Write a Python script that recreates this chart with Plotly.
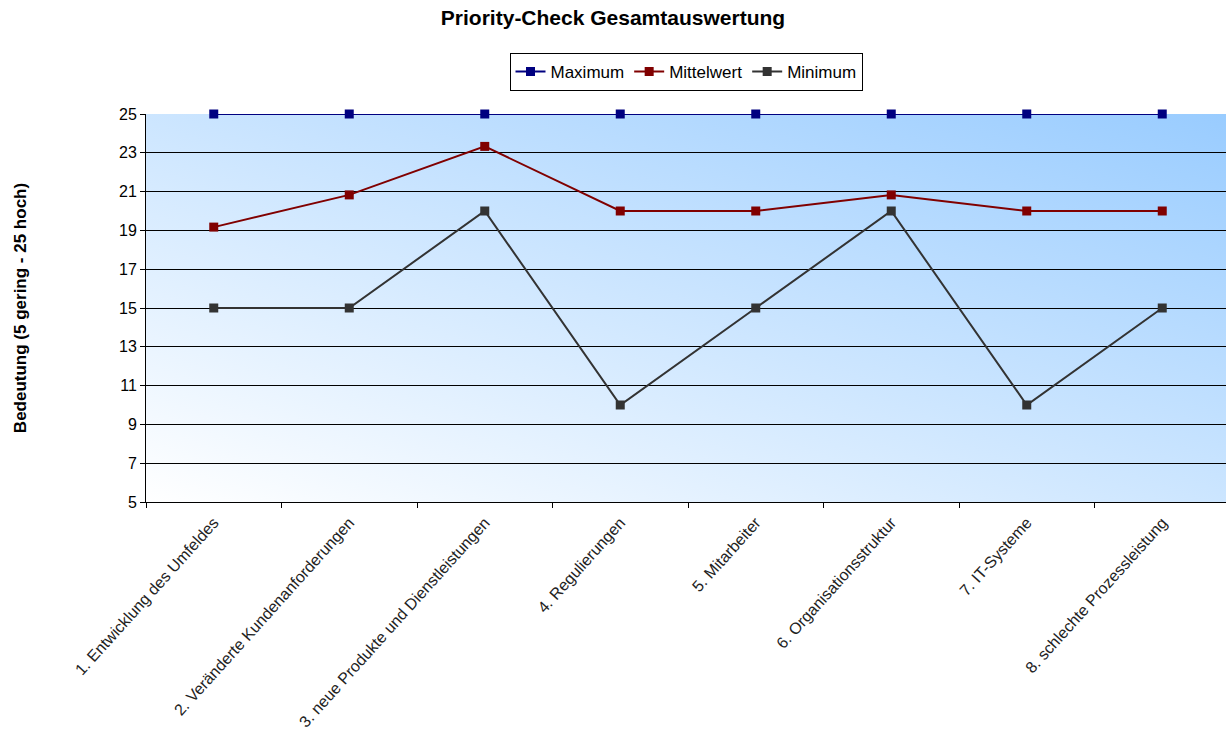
import base64
import plotly.graph_objects as go

categories = [
    "1. Entwicklung des Umfeldes",
    "2. Veränderte Kundenanforderungen",
    "3. neue Produkte und Dienstleistungen",
    "4. Regulierungen",
    "5. Mitarbeiter",
    "6. Organisationsstruktur",
    "7. IT-Systeme",
    "8. schlechte Prozessleistung",
]
maximum = [25, 25, 25, 25, 25, 25, 25, 25]
mittelwert = [19.17, 20.83, 23.33, 20, 20, 20.83, 20, 20]
minimum = [15, 15, 20, 10, 15, 20, 10, 15]
y_ticks = [5, 7, 9, 11, 13, 15, 17, 19, 21, 23, 25]

FONT = "Liberation Sans, Arial, sans-serif"

series = [
    ("Maximum", maximum, "#000080"),
    ("Mittelwert", mittelwert, "#800000"),
    ("Minimum", minimum, "#333333"),
]

fig = go.Figure()
for name, vals, col in series:
    fig.add_trace(go.Scatter(
        x=categories, y=vals, name=name, mode="lines+markers",
        line=dict(color=col, width=2),
        marker=dict(symbol="square", size=9, color=col),
        cliponaxis=False,
    ))

svg = (
    '<svg xmlns="http://www.w3.org/2000/svg" width="1080" height="388" '
    'viewBox="0 0 1080 388" preserveAspectRatio="none">'
    '<defs><linearGradient id="g" x1="0" y1="1" x2="1" y2="0">'
    '<stop offset="0" stop-color="#FFFFFF"/>'
    '<stop offset="1" stop-color="#99CCFF"/>'
    '</linearGradient></defs>'
    '<rect x="0" y="0" width="1080" height="388" fill="url(#g)"/></svg>'
)
src = "data:image/svg+xml;base64," + base64.b64encode(svg.encode()).decode()

fig.update_layout(
    width=1226, height=740,
    margin=dict(l=146, r=0, t=114, b=238, autoexpand=False),
    paper_bgcolor="white",
    plot_bgcolor="rgba(0,0,0,0)",
    font=dict(family=FONT, size=16, color="black"),
    title=dict(text="<b>Priority-Check Gesamtauswertung</b>", x=0.5, xref="container",
               xanchor="center", y=1 - 18 / 740, yanchor="middle",
               font=dict(size=21, family=FONT)),
    legend=dict(orientation="h", x=0.5, xanchor="center", y=1 + (114 - 91) / 388,
                yanchor="bottom", bordercolor="black", borderwidth=1,
                bgcolor="white", font=dict(size=17, family=FONT),
                itemwidth=30, tracegroupgap=0),
    images=[dict(source=src, xref="paper", yref="paper", x=0, y=1, sizex=1, sizey=1,
                 xanchor="left", yanchor="top", sizing="stretch", layer="below")],
    showlegend=True,
)
fig.update_xaxes(
    type="category", range=[-0.5, 7.5 - 4 / 135.5],
    tickangle=-48, tickson="boundaries", ticks="outside", ticklen=5, tickcolor="black",
    showline=True, linecolor="black", linewidth=1, showgrid=False,
    ticklabelstandoff=4,
    tickfont=dict(size=16, family=FONT, color="#222222"),
)
fig.update_yaxes(
    range=[5, 25], tickvals=y_ticks, ticks="outside", ticklen=5, tickcolor="black",
    showline=True, linecolor="black", linewidth=1,
    showgrid=True, gridcolor="black", gridwidth=1, zeroline=False,
    tickfont=dict(size=16, family=FONT),
    title=dict(text="<b>Bedeutung (5 gering - 25 hoch)</b>", standoff=88,
               font=dict(size=17, family=FONT)),
)

fig.write_html("out.html")
